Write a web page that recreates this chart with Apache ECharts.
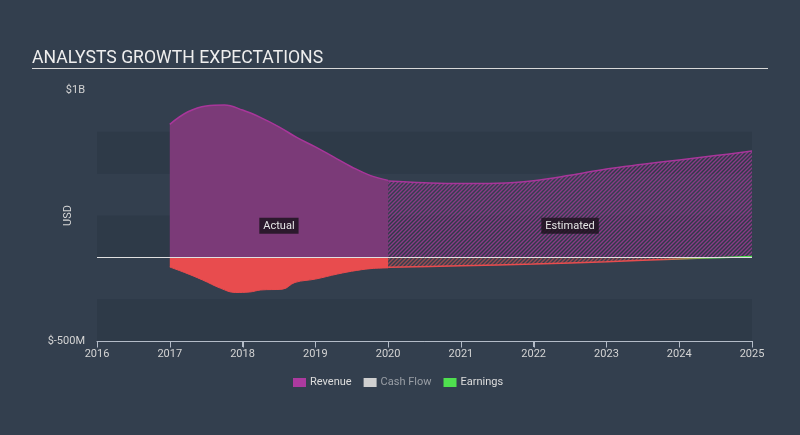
<!DOCTYPE html>
<html>
<head>
<meta charset="utf-8">
<script src="https://cdn.jsdelivr.net/npm/echarts@6/dist/echarts.min.js"></script>
<style>
html,body{margin:0;padding:0;background:#333f4e;}
#c{width:800px;height:435px;}
</style>
</head>
<body>
<div id="c"></div>
<script>
// ---- data (values in billions USD) ----
const xTicks = [2016, 2017, 2018, 2019, 2020, 2021, 2022, 2023, 2024, 2025];
const revActYears = [2017, 2017.25, 2017.5, 2017.75, 2018, 2018.25, 2018.5, 2018.75, 2019, 2019.25, 2019.5, 2019.75, 2020];
const revActVals  = [0.795, 0.87, 0.905, 0.91, 0.88, 0.835, 0.78, 0.715, 0.66, 0.6, 0.54, 0.49, 0.46];
const revEstYears = [2020, 2020.5, 2021, 2021.5, 2022, 2022.5, 2023, 2023.5, 2024, 2024.5, 2025];
const revEstVals  = [0.456, 0.446, 0.441, 0.443, 0.458, 0.49, 0.528, 0.556, 0.582, 0.608, 0.635];
const earnActYears = [2017, 2017.2, 2017.45, 2017.7, 2017.9, 2018.1, 2018.25, 2018.55, 2018.72, 2019, 2019.3, 2019.57, 2019.8, 2020];
const earnActVals  = [-0.058, -0.09, -0.135, -0.185, -0.21, -0.207, -0.195, -0.19, -0.15, -0.13, -0.1, -0.078, -0.066, -0.063];
const earnEstYears = [2020, 2021, 2022, 2023, 2024, 2024.5, 2025];
const earnEstVals  = [-0.06, -0.05, -0.04, -0.026, -0.01, -0.002, 0.005];
const yLabels = {'1': '$1B', '-0.5': '$-500M'};
const yMin = -0.5, yMax = 1;

function zip(xs, ys){ return xs.map((x,i)=>[x, ys[i]]); }

function hatch(color){
  const s = 4;
  const c = document.createElement('canvas');
  c.width = s; c.height = s;
  const g = c.getContext('2d');
  g.strokeStyle = color; g.lineWidth = 1.4;
  g.beginPath();
  g.moveTo(0, s); g.lineTo(s, 0);
  g.moveTo(-1, 1); g.lineTo(1, -1);
  g.moveTo(s-1, s+1); g.lineTo(s+1, s-1);
  g.stroke();
  return c;
}

const chart = echarts.init(document.getElementById('c'));
const labelBox = {
  show: true, position: 'inside', color: '#e6e6e6', fontSize: 11,
  fontFamily: 'Roboto', backgroundColor: 'rgba(30,20,32,0.85)', padding: [3, 4, 2, 4]
};
const axisColor = '#b4bcc8';
chart.setOption({
  backgroundColor: '#333f4e',
  animation: false,
  title: {
    text: 'ANALYSTS GROWTH EXPECTATIONS', left: 27, top: 45,
    textStyle: {color: '#eeeeee', fontSize: 17.6, fontWeight: 'normal', fontFamily: 'Roboto'}
  },
  legend: {
    left: 288, top: 372, icon: 'rect', itemWidth: 13, itemHeight: 9, itemGap: 12,
    textStyle: {color: '#dddddd', fontSize: 11, fontFamily: 'Roboto', padding: [0, 0, 0, -1]},
    data: [
      {name: 'Revenue', itemStyle: {color: '#ac3a9f'}},
      {name: 'Cash Flow', itemStyle: {color: '#d0d0d0'}, textStyle: {color: '#9a9fa6'}},
      {name: 'Earnings', itemStyle: {color: '#4fe04f'}}
    ],
    selectedMode: false
  },
  grid: {left: 97, right: 48, top: 90, bottom: 94},
  xAxis: {
    type: 'value', min: 2016, max: 2025, interval: 1, position: 'bottom',
    axisLine: {show: true, onZero: false, lineStyle: {color: axisColor, width: 1}},
    axisTick: {show: true, lineStyle: {color: axisColor, width: 1}, length: 6},
    axisLabel: {color: '#d4d4d4', fontSize: 11, fontFamily: 'Roboto', margin: 8,
      formatter: v => xTicks.includes(v) ? String(v) : ''},
    splitLine: {show: false}
  },
  yAxis: {
    type: 'value', min: yMin, max: yMax, interval: 0.25,
    name: 'USD', nameLocation: 'middle', nameGap: 23, nameRotate: 90, nameMoveOverlap: false,
    nameTextStyle: {color: '#d4d4d4', fontSize: 11, fontFamily: 'Roboto'},
    axisLine: {show: false}, axisTick: {show: false},
    axisLabel: {color: '#d4d4d4', fontSize: 11, fontFamily: 'Roboto', margin: 12,
      formatter: v => yLabels[String(v)] || ''},
    splitLine: {show: false},
    splitArea: {show: true, areaStyle: {color: ['#2e3a48', 'rgba(0,0,0,0)']}}
  },
  series: [
    {
      name: 'Cash Flow', type: 'line', data: [], z: 1,
      itemStyle: {color: '#d0d0d0'},
      markLine: {silent: true, symbol: 'none', label: {show: false},
        lineStyle: {color: '#e0e0e0', type: 'solid', width: 1},
        data: [{yAxis: 0}]}
    },
    {
      name: 'Revenue', type: 'line', z: 3, smooth: 0.4, showSymbol: false,
      data: zip(revActYears, revActVals),
      itemStyle: {color: '#ac3a9f'},
      lineStyle: {color: '#a8369a', width: 1.5},
      areaStyle: {color: '#7b3a78', opacity: 1},
      markPoint: {symbol: 'rect', symbolSize: 1, itemStyle: {color: 'rgba(0,0,0,0)'},
        label: Object.assign({}, labelBox, {formatter: 'Actual'}),
        data: [{coord: [2018.5, 0.188]}]}
    },
    {
      name: 'Revenue', type: 'line', z: 3, smooth: 0.4, showSymbol: false,
      data: zip(revEstYears, revEstVals),
      itemStyle: {color: '#ac3a9f'},
      lineStyle: {color: '#a8369a', width: 1.5},
      areaStyle: {color: {image: hatch('#8a3a86'), repeat: 'repeat'}, opacity: 1},
      markPoint: {symbol: 'rect', symbolSize: 1, itemStyle: {color: 'rgba(0,0,0,0)'},
        label: Object.assign({}, labelBox, {formatter: 'Estimated'}),
        data: [{coord: [2022.5, 0.188]}]}
    },
    {
      name: 'Earnings', type: 'line', z: 4, smooth: 0.4, showSymbol: false,
      data: zip(earnActYears, earnActVals),
      itemStyle: {color: '#4fe04f'},
      lineStyle: {color: '#e84c4e', width: 1},
      areaStyle: {color: '#e84c4e', opacity: 1}
    },
    {
      name: 'Earnings', type: 'line', z: 4, smooth: 0.3, showSymbol: false,
      data: zip(earnEstYears, earnEstVals),
      itemStyle: {color: '#4fe04f'},
      lineStyle: {width: 1.5, color: new echarts.graphic.LinearGradient(0, 0, 1, 0, [
        {offset: 0, color: '#e84c4e'}, {offset: 0.74, color: '#e84c4e'},
        {offset: 0.9, color: '#52e052'}, {offset: 1, color: '#52e052'}])},
      areaStyle: {color: {image: hatch('#9a4a52'), repeat: 'repeat'}, opacity: 1}
    }
  ]
});

// Title underline plus bottom axis line/ticks placed through the chart's own scales
const p0 = chart.convertToPixel({gridIndex: 0}, [xTicks[0], yMin]);
const p1 = chart.convertToPixel({gridIndex: 0}, [xTicks[xTicks.length - 1], yMin]);
const by = Math.round(p0[1]) + 0.5;
const g = [
  {type: 'line', z: 100, shape: {x1: 32, y1: 68.5, x2: 768, y2: 68.5}, style: {stroke: '#d8d8d8', lineWidth: 1}},
  {type: 'line', z: 100, shape: {x1: p0[0], y1: by, x2: p1[0], y2: by}, style: {stroke: axisColor, lineWidth: 1}}
];
xTicks.forEach(t => {
  const x = Math.round(chart.convertToPixel({gridIndex: 0}, [t, yMin])[0]) + 0.5;
  g.push({type: 'line', z: 100, shape: {x1: x, y1: by, x2: x, y2: by + 6}, style: {stroke: axisColor, lineWidth: 1}});
});
chart.setOption({graphic: g});
</script>
</body>
</html>
